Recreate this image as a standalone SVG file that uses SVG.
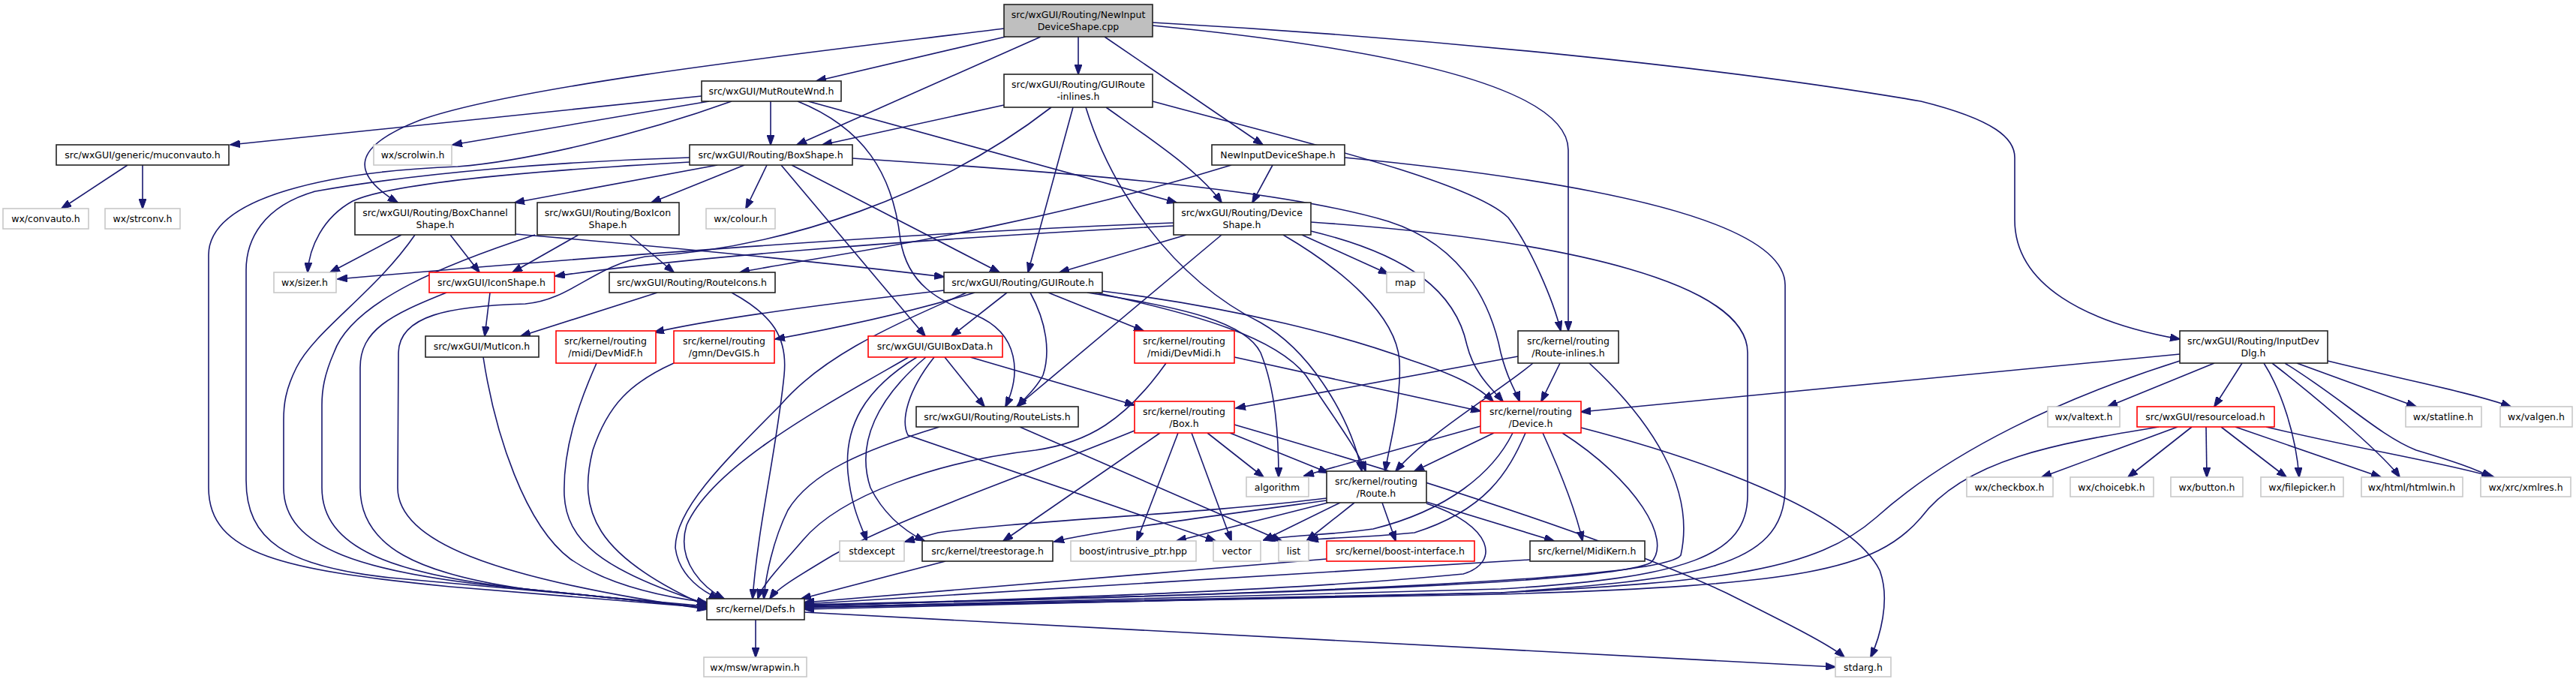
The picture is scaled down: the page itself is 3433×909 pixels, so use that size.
<svg xmlns="http://www.w3.org/2000/svg" width="3433" height="909" viewBox="0 0 3433 909">
<style>
.n rect{fill:#fff;stroke-width:1.6}
.k rect{stroke:#222}
.g rect{stroke:#c8c8c8}
.r rect{stroke:#ff0000}
.top rect{fill:#bfbfbf;stroke:#222}
text{font-family:"DejaVu Sans","Liberation Sans",Arial,sans-serif;font-size:12.5px;text-anchor:middle;fill:#000}
#edges path{fill:none;stroke:#191970;stroke-width:1.6;marker-end:url(#ah)}
</style>
<defs>
<marker id="ah" markerWidth="14" markerHeight="10" refX="13" refY="5" orient="auto" markerUnits="userSpaceOnUse"><path d="M0,0 L14,5 L0,10 z" fill="#191970" stroke="#191970" stroke-width="1"/></marker>
</defs>
<rect width="3433" height="909" fill="#fff"/>
<g id="edges">
<path d="M1340,49 L1088,108"/>
<path d="M1387,49 L1062,193"/>
<path d="M1437,49 L1437,99"/>
<path d="M1472,49 L1683,193"/>
<path d="M1338,38 C1150,62 700,110 560,160 C470,195 465,230 530,270"/>
<path d="M1536,34 C1750,55 2090,100 2090,200 L2090,441"/>
<path d="M1536,30 C1900,50 2300,90 2560,135 C2660,160 2685,185 2685,210 L2685,293 C2685,380 2780,430 2905,452"/>
<path d="M935,128 L307,193"/>
<path d="M945,135 L603,193"/>
<path d="M975,135 C850,180 700,215 610,222 C450,228 278,260 278,340 L278,650 C278,740 380,760 600,782 L942,810"/>
<path d="M1027,135 L1027,193"/>
<path d="M1063,135 C1150,170 1190,230 1200,320 C1210,380 1250,400 1300,420 C1360,445 1360,500 1340,542"/>
<path d="M1077,135 L1568,270"/>
<path d="M919,210 C750,215 560,230 420,255 C350,275 328,320 328,360 L328,640 C328,720 380,755 520,770 L942,808"/>
<path d="M919,216 C700,228 520,245 470,268 C430,290 412,330 410,363"/>
<path d="M956,220 L686,270"/>
<path d="M992,220 L868,270"/>
<path d="M1022,220 L994,278"/>
<path d="M1041,220 L1233,448"/>
<path d="M1055,220 L1332,363"/>
<path d="M1136,211 C1400,228 1700,250 1850,295 C1960,330 1990,420 2000,470 C2010,510 2020,520 2025,535"/>
<path d="M1338,140 L1096,193"/>
<path d="M1430,143 L1370,363"/>
<path d="M1474,143 C1540,190 1600,230 1628,270"/>
<path d="M1447,143 C1480,250 1560,370 1680,430 C1750,470 1800,560 1815,628"/>
<path d="M1401,143 C1250,260 1050,330 860,342 C790,355 760,400 700,405 C600,408 532,420 531,470 L530,650 C530,720 650,770 942,812"/>
<path d="M1536,135 C1700,180 1960,240 2010,290 C2040,330 2070,400 2080,441"/>
<path d="M1696,220 L1669,270"/>
<path d="M1641,220 C1350,310 1100,340 986,363"/>
<path d="M1792,210 C2100,240 2379,290 2379,380 L2379,650 C2379,760 2250,772 2000,790 L1072,812"/>
<path d="M535,313 L440,363"/>
<path d="M600,313 L639,363"/>
<path d="M553,313 C500,390 420,440 395,490 C380,520 378,540 378,560 L378,650 C378,730 480,765 700,785 L942,810"/>
<path d="M687,312 C900,330 1100,350 1258,369"/>
<path d="M771,313 L683,363"/>
<path d="M839,313 L898,363"/>
<path d="M713,313 C600,350 470,400 445,470 C432,500 429,520 429,540 L429,650 C429,730 520,765 700,785 L942,810"/>
<path d="M1581,313 L1412,363"/>
<path d="M1564,297 C1200,310 700,350 450,372"/>
<path d="M1564,301 C1200,320 900,345 740,368"/>
<path d="M1628,313 L1355,542"/>
<path d="M1735,313 L1850,365"/>
<path d="M1747,308 C1880,340 1940,390 1955,460 C1965,500 1990,520 2003,535"/>
<path d="M1710,313 C1790,360 1860,420 1865,480 C1868,540 1850,600 1846,628"/>
<path d="M1747,296 C2100,320 2329,380 2329,470 L2329,660 C2329,740 2250,770 2000,785 L1072,810"/>
<path d="M653,390 L646,448"/>
<path d="M595,390 C520,420 480,440 480,490 L480,650 C480,730 560,765 700,785 L942,810"/>
<path d="M876,390 L694,448"/>
<path d="M975,390 C1030,420 1050,450 1045,500 C1035,600 1010,700 1003,798"/>
<path d="M1342,390 L1268,448"/>
<path d="M1258,387 C1100,405 950,425 872,443"/>
<path d="M1299,390 C1200,420 1100,440 1033,452"/>
<path d="M1288,390 C1200,430 1100,470 1040,540 C960,620 900,680 900,730 C905,770 940,790 958,798"/>
<path d="M1373,390 C1395,430 1400,470 1390,500 C1380,520 1365,530 1357,542"/>
<path d="M1397,390 L1524,441"/>
<path d="M1449,390 C1580,410 1660,430 1680,470 C1700,520 1704,580 1704,636"/>
<path d="M1460,390 C1600,420 1700,450 1740,500 C1780,560 1810,600 1820,628"/>
<path d="M1469,388 C1650,410 1800,450 1880,480 C1940,500 1970,515 1990,535"/>
<path d="M1259,476 L1312,542"/>
<path d="M1293,476 L1512,540"/>
<path d="M1222,476 C1150,520 1125,570 1130,630 C1135,680 1150,705 1155,721"/>
<path d="M1234,476 C1170,530 1140,590 1160,650 C1180,690 1210,710 1232,721"/>
<path d="M1245,476 C1210,520 1200,560 1210,580 L1620,721"/>
<path d="M1211,476 C1100,540 950,620 915,700 C900,750 940,785 965,798"/>
<path d="M795,484 C770,540 750,600 752,660 C755,720 800,760 942,805"/>
<path d="M898,484 C840,510 810,540 790,600 C770,680 790,740 942,808"/>
<path d="M644,476 C660,580 700,700 760,745 C810,780 880,795 942,803"/>
<path d="M1645,476 L1973,548"/>
<path d="M1554,484 C1500,560 1450,590 1380,600 C1250,615 1120,660 1070,720 C1040,755 1015,780 1010,798"/>
<path d="M1252,569 C1150,600 1080,630 1050,680 C1030,720 1020,770 1018,798"/>
<path d="M1359,569 L1708,721"/>
<path d="M1609,577 L1684,636"/>
<path d="M1588,577 L1641,721"/>
<path d="M1570,577 L1515,721"/>
<path d="M1546,577 L1337,721"/>
<path d="M1639,577 L1770,630"/>
<path d="M1645,566 C1900,640 2150,720 2300,790 C2380,830 2440,860 2458,876"/>
<path d="M1512,574 C1350,640 1200,690 1110,740 C1060,770 1035,785 1026,798"/>
<path d="M2023,475 L1647,544"/>
<path d="M1768,664 C1600,685 1350,695 1250,710 L1206,722"/>
<path d="M1768,667 C1600,690 1450,710 1405,722"/>
<path d="M1770,670 L1568,721"/>
<path d="M1786,670 L1684,720"/>
<path d="M1805,670 L1742,720"/>
<path d="M1842,670 L1860,721"/>
<path d="M1901,669 L2071,721"/>
<path d="M1901,671 C1990,700 2000,750 1950,765 C1700,790 1300,800 1072,808"/>
<path d="M1973,568 L1738,634"/>
<path d="M1991,577 L1885,628"/>
<path d="M2016,577 C1990,630 1930,680 1830,705 C1760,715 1720,712 1686,720"/>
<path d="M2033,577 C2010,630 1980,680 1885,710 C1800,718 1770,716 1744,720"/>
<path d="M2056,577 C2080,630 2100,680 2109,721"/>
<path d="M2082,577 C2180,640 2230,720 2200,750 C2150,775 1800,790 1072,806"/>
<path d="M2107,570 C2300,620 2470,690 2505,760 C2520,800 2505,850 2493,876"/>
<path d="M2079,484 L2054,535"/>
<path d="M2043,484 C2000,520 1900,580 1860,628"/>
<path d="M2118,484 C2200,560 2260,650 2240,740 C2220,770 1800,790 1072,807"/>
<path d="M2905,472 L2107,549"/>
<path d="M2905,481 C2750,530 2600,600 2500,690 C2420,760 2300,775 2000,790 L1072,809"/>
<path d="M2951,484 L2809,542"/>
<path d="M2988,484 L2951,542"/>
<path d="M3017,484 C3040,520 3060,580 3064,636"/>
<path d="M3028,484 C3100,540 3180,610 3198,636"/>
<path d="M3045,484 C3120,530 3170,580 3220,600 C3270,615 3300,625 3320,636"/>
<path d="M3061,484 L3220,542"/>
<path d="M3102,481 C3200,505 3300,525 3346,542"/>
<path d="M2877,569 C2750,590 2620,610 2560,690 C2500,760 2400,780 2000,792 L1072,810"/>
<path d="M2902,569 L2721,636"/>
<path d="M2921,569 L2836,636"/>
<path d="M2940,569 L2941,636"/>
<path d="M2960,569 L3047,636"/>
<path d="M2979,569 L3173,636"/>
<path d="M3020,569 C3150,600 3250,615 3324,636"/>
<path d="M1007,826 L1007,876"/>
<path d="M1072,816 L2446,889"/>
<path d="M1260,748 L1068,798"/>
<path d="M1768,745 L1072,803"/>
<path d="M2039,746 L1072,805"/>
<path d="M170,220 L82,278"/>
<path d="M190,220 L190,278"/>
</g>
<g id="n_cpp" class="n top"><rect x="1338" y="6" width="198" height="43"/><text x="1437" y="24">src/wxGUI/Routing/NewInput</text><text x="1437" y="40">DeviceShape.cpp</text></g>
<g id="n_mutroutewnd" class="n k"><rect x="935" y="108" width="186" height="27"/><text x="1028" y="126">src/wxGUI/MutRouteWnd.h</text></g>
<g id="n_guirouteinl" class="n k"><rect x="1338" y="99" width="198" height="44"/><text x="1437" y="117">src/wxGUI/Routing/GUIRoute</text><text x="1437" y="133">-inlines.h</text></g>
<g id="n_muconvauto" class="n k"><rect x="75" y="193" width="230" height="27"/><text x="190" y="211">src/wxGUI/generic/muconvauto.h</text></g>
<g id="n_scrolwin" class="n g"><rect x="498" y="193" width="104" height="27"/><text x="550" y="211">wx/scrolwin.h</text></g>
<g id="n_boxshape" class="n k"><rect x="919" y="193" width="217" height="27"/><text x="1027" y="211">src/wxGUI/Routing/BoxShape.h</text></g>
<g id="n_nidsh" class="n k"><rect x="1615" y="193" width="177" height="27"/><text x="1703" y="211">NewInputDeviceShape.h</text></g>
<g id="n_convauto" class="n g"><rect x="4" y="278" width="114" height="27"/><text x="61" y="296">wx/convauto.h</text></g>
<g id="n_strconv" class="n g"><rect x="140" y="278" width="100" height="27"/><text x="190" y="296">wx/strconv.h</text></g>
<g id="n_boxchannel" class="n k"><rect x="473" y="270" width="214" height="43"/><text x="580" y="288">src/wxGUI/Routing/BoxChannel</text><text x="580" y="304">Shape.h</text></g>
<g id="n_boxicon" class="n k"><rect x="716" y="270" width="189" height="43"/><text x="810" y="288">src/wxGUI/Routing/BoxIcon</text><text x="810" y="304">Shape.h</text></g>
<g id="n_colour" class="n g"><rect x="941" y="278" width="92" height="27"/><text x="987" y="296">wx/colour.h</text></g>
<g id="n_deviceshape" class="n k"><rect x="1564" y="270" width="183" height="43"/><text x="1655" y="288">src/wxGUI/Routing/Device</text><text x="1655" y="304">Shape.h</text></g>
<g id="n_sizer" class="n g"><rect x="365" y="363" width="83" height="27"/><text x="406" y="381">wx/sizer.h</text></g>
<g id="n_iconshape" class="n r"><rect x="572" y="363" width="167" height="27"/><text x="655" y="381">src/wxGUI/IconShape.h</text></g>
<g id="n_routeicons" class="n k"><rect x="812" y="363" width="221" height="27"/><text x="922" y="381">src/wxGUI/Routing/RouteIcons.h</text></g>
<g id="n_guiroute" class="n k"><rect x="1258" y="363" width="211" height="27"/><text x="1363" y="381">src/wxGUI/Routing/GUIRoute.h</text></g>
<g id="n_map" class="n g"><rect x="1848" y="363" width="50" height="27"/><text x="1873" y="381">map</text></g>
<g id="n_muticon" class="n k"><rect x="567" y="448" width="151" height="28"/><text x="642" y="466">src/wxGUI/MutIcon.h</text></g>
<g id="n_devmidf" class="n r"><rect x="741" y="441" width="133" height="43"/><text x="807" y="459">src/kernel/routing</text><text x="807" y="475">/midi/DevMidF.h</text></g>
<g id="n_devgis" class="n r"><rect x="898" y="441" width="134" height="43"/><text x="965" y="459">src/kernel/routing</text><text x="965" y="475">/gmn/DevGIS.h</text></g>
<g id="n_guiboxdata" class="n r"><rect x="1157" y="448" width="179" height="28"/><text x="1246" y="466">src/wxGUI/GUIBoxData.h</text></g>
<g id="n_devmidi" class="n r"><rect x="1512" y="441" width="133" height="43"/><text x="1578" y="459">src/kernel/routing</text><text x="1578" y="475">/midi/DevMidi.h</text></g>
<g id="n_routeinl" class="n k"><rect x="2023" y="441" width="134" height="43"/><text x="2090" y="459">src/kernel/routing</text><text x="2090" y="475">/Route-inlines.h</text></g>
<g id="n_inputdevdlg" class="n k"><rect x="2905" y="441" width="197" height="43"/><text x="3003" y="459">src/wxGUI/Routing/InputDev</text><text x="3003" y="475">Dlg.h</text></g>
<g id="n_routelists" class="n k"><rect x="1221" y="542" width="216" height="27"/><text x="1329" y="560">src/wxGUI/Routing/RouteLists.h</text></g>
<g id="n_box" class="n r"><rect x="1512" y="535" width="133" height="42"/><text x="1578" y="553">src/kernel/routing</text><text x="1578" y="569">/Box.h</text></g>
<g id="n_device" class="n r"><rect x="1973" y="535" width="134" height="42"/><text x="2040" y="553">src/kernel/routing</text><text x="2040" y="569">/Device.h</text></g>
<g id="n_valtext" class="n g"><rect x="2729" y="542" width="96" height="27"/><text x="2777" y="560">wx/valtext.h</text></g>
<g id="n_resourceload" class="n r"><rect x="2848" y="542" width="183" height="27"/><text x="2939" y="560">src/wxGUI/resourceload.h</text></g>
<g id="n_statline" class="n g"><rect x="3206" y="542" width="101" height="27"/><text x="3256" y="560">wx/statline.h</text></g>
<g id="n_valgen" class="n g"><rect x="3332" y="542" width="96" height="27"/><text x="3380" y="560">wx/valgen.h</text></g>
<g id="n_algorithm" class="n g"><rect x="1661" y="636" width="83" height="26"/><text x="1702" y="654">algorithm</text></g>
<g id="n_route" class="n k"><rect x="1768" y="628" width="133" height="42"/><text x="1834" y="646">src/kernel/routing</text><text x="1834" y="662">/Route.h</text></g>
<g id="n_checkbox" class="n g"><rect x="2621" y="636" width="115" height="26"/><text x="2678" y="654">wx/checkbox.h</text></g>
<g id="n_choicebk" class="n g"><rect x="2759" y="636" width="111" height="26"/><text x="2814" y="654">wx/choicebk.h</text></g>
<g id="n_button" class="n g"><rect x="2893" y="636" width="96" height="26"/><text x="2941" y="654">wx/button.h</text></g>
<g id="n_filepicker" class="n g"><rect x="3013" y="636" width="110" height="26"/><text x="3068" y="654">wx/filepicker.h</text></g>
<g id="n_htmlwin" class="n g"><rect x="3147" y="636" width="135" height="26"/><text x="3214" y="654">wx/html/htmlwin.h</text></g>
<g id="n_xmlres" class="n g"><rect x="3306" y="636" width="120" height="26"/><text x="3366" y="654">wx/xrc/xmlres.h</text></g>
<g id="n_stdexcept" class="n g"><rect x="1119" y="721" width="86" height="27"/><text x="1162" y="739">stdexcept</text></g>
<g id="n_treestorage" class="n k"><rect x="1229" y="721" width="174" height="27"/><text x="1316" y="739">src/kernel/treestorage.h</text></g>
<g id="n_intrusive" class="n g"><rect x="1427" y="721" width="167" height="27"/><text x="1510" y="739">boost/intrusive_ptr.hpp</text></g>
<g id="n_vector" class="n g"><rect x="1617" y="721" width="63" height="27"/><text x="1648" y="739">vector</text></g>
<g id="n_list" class="n g"><rect x="1704" y="721" width="40" height="27"/><text x="1724" y="739">list</text></g>
<g id="n_boostif" class="n r"><rect x="1768" y="721" width="197" height="27"/><text x="1866" y="739">src/kernel/boost-interface.h</text></g>
<g id="n_midikern" class="n k"><rect x="2039" y="721" width="153" height="27"/><text x="2115" y="739">src/kernel/MidiKern.h</text></g>
<g id="n_defs" class="n k"><rect x="942" y="798" width="130" height="28"/><text x="1007" y="816">src/kernel/Defs.h</text></g>
<g id="n_wrapwin" class="n g"><rect x="938" y="876" width="137" height="26"/><text x="1006" y="894">wx/msw/wrapwin.h</text></g>
<g id="n_stdarg" class="n g"><rect x="2446" y="876" width="74" height="26"/><text x="2483" y="894">stdarg.h</text></g>
</svg>
